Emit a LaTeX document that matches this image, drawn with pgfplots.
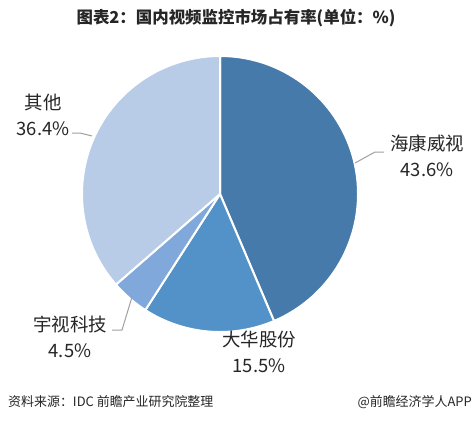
\documentclass[border=0pt]{standalone}
\usepackage{fontspec}
\setmainfont{Noto Sans CJK SC}
\usepackage{pgfplots}
\pgfplotsset{compat=1.18}
\definecolor{hk}{RGB}{70,122,170}
\definecolor{dh}{RGB}{83,146,200}
\definecolor{ys}{RGB}{128,168,218}
\definecolor{qt}{RGB}{184,204,232}
\definecolor{txt}{RGB}{38,38,38}
\definecolor{lead}{RGB}{160,160,160}
\begin{document}
\begin{tikzpicture}
\begin{axis}[x=1bp,y=1bp,xmin=0,xmax=474,ymin=0,ymax=421,hide axis,clip=false]
\path[fill=white] (axis cs:0,0) rectangle (axis cs:474,421);
% slices, clockwise from the top
\def\cum{0}
\foreach \v/\c in {43.6/hk,15.5/dh,4.5/ys,36.4/qt}{
  \pgfmathsetmacro\sa{90-3.6*\cum}
  \pgfmathsetmacro\ea{\sa-3.6*\v}
  \edef\tmp{\noexpand\draw[white,line width=2bp,fill=\c,line join=round] (axis cs:220,227) -- ++(\sa:138bp) arc[start angle=\sa,end angle=\ea,radius=138bp] -- cycle;}
  \tmp
  \pgfmathsetmacro\newcum{\cum+\v}
  \global\let\cum\newcum
}
% leader lines
\draw[lead,line width=1bp] (axis cs:355,258) -- (axis cs:375,269) -- (axis cs:384,269);
\draw[lead,line width=1bp] (axis cs:72,288) -- (axis cs:80,288) -- (axis cs:92,285);
\draw[lead,line width=1bp] (axis cs:132,124) -- (axis cs:122,91) -- (axis cs:112,91);
% labels
\tikzset{lab/.style={text=txt,align=center,font=\fontsize{18.5}{26}\selectfont,inner sep=0pt}}
\node[lab] at (axis cs:427,265) {海康威视\\43.6\%};
\node[lab] at (axis cs:259,69.5) {大华股份\\15.5\%};
\node[lab] at (axis cs:70,84.5) {宇视科技\\4.5\%};
\node[lab] at (axis cs:43,306.5) {其他\\36.4\%};
% title and footer
\node[text=txt,font=\fontsize{16.5}{20}\selectfont\bfseries] at (axis cs:236,403) {图表2：国内视频监控市场占有率(单位：\%)};
\node[text=txt,anchor=west,font=\fontsize{13}{16}\selectfont,inner sep=0pt] at (axis cs:8,19) {资料来源：IDC 前瞻产业研究院整理};
\node[text=txt,anchor=east,font=\fontsize{13}{16}\selectfont,inner sep=0pt] at (axis cs:472,19) {@前瞻经济学人APP};
\end{axis}
\end{tikzpicture}
\end{document}
